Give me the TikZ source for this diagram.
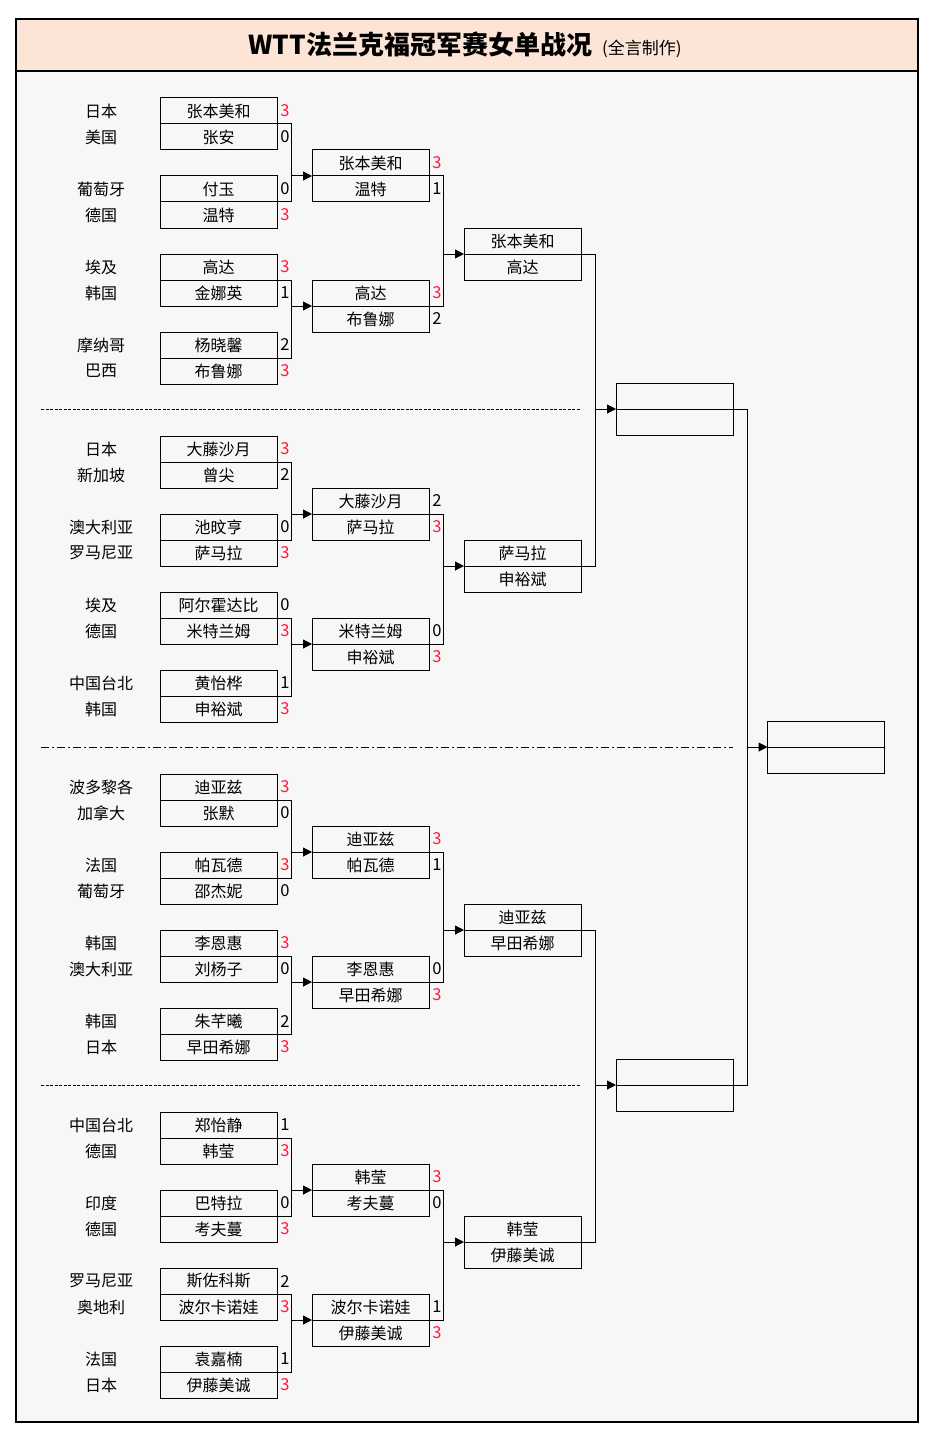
\documentclass[tikz,border=0pt]{standalone}
\usepackage{fontspec}
\setmainfont{Noto Sans CJK SC}
\usetikzlibrary{arrows.meta}
\definecolor{titlefill}{HTML}{FCE4D6}
\definecolor{bodyfill}{HTML}{F7F7F7}
\definecolor{scorered}{HTML}{FF1A3C}
\newcommand\Sc[1]{\ifnum#1=3 \textcolor{scorered}{#1}\else #1\fi}
\tikzset{
  cell/.style={draw, line width=1pt, minimum width=117pt, minimum height=26pt,
    inner sep=0pt, outer sep=0pt, font=\fontsize{16}{16}\selectfont},
  score/.style={inner sep=0pt, font=\fontsize{16.5}{16}\selectfont},
  country/.style={inner sep=0pt, font=\fontsize{16}{16}\selectfont},
  conn/.style={line width=1pt},
  arr/.style={-{Triangle[length=9pt,width=9pt]}},
  sepdash/.style={line width=0.9pt, dash pattern=on 3pt off 1.5pt},
  sepdashdot/.style={line width=0.9pt, dash pattern=on 8pt off 3pt on 2pt off 3pt},
}
\newcommand\Pair[5]{%
  \node[cell] (#1a) at (#2,#3+13) {#4};
  \node[cell] (#1b) at (#2,#3+39) {#5};}
\newcommand\Scores[3]{%
  \node[score] (#1sa) at ([xshift=8pt]#1a.east) {\Sc{#2}};
  \node[score] (#1sb) at ([xshift=8pt]#1b.east) {\Sc{#3}};}
\newcommand\Rone[8]{%
  \Pair{#1}{218.5}{#2}{#4}{#7}
  \node[country] (#1ca) at (101,#2+13) {#3};
  \node[country] (#1cb) at (101,#2+39) {#6};
  \Scores{#1}{#5}{#8}}
\newcommand\Rtwo[6]{%
  \Pair{#1}{370.5}{#2}{#3}{#5}
  \Scores{#1}{#4}{#6}}
\newcommand\Bracket[3]{%
  \draw[conn] (#1a.south east) -- ++(14,0) coordinate (#1br) |- (#2a.south east);
  \draw[conn,arr] (#1br |- #3a.south west) -- (#3a.south west);}
\begin{document}
\begin{tikzpicture}[x=1pt,y=-1pt]
\useasboundingbox (0,0) rectangle (936,1442);
\fill[white] (0,0) rectangle (936,1442);
\fill[bodyfill] (16,19) rectangle (918,1422);
\fill[titlefill] (16,19) rectangle (918,71);
\draw[line width=2pt] (16,19) rectangle (918,1422);
\draw[line width=2pt] (16,71) -- (918,71);
\node (title) at (465,45) {{\fontsize{26}{26}\selectfont\bfseries WTT法兰克福冠军赛女单战况}\hspace{10pt}{\fontsize{17}{17}\selectfont (全言制作)}};

% Section 1
\Rone{a1}{98}{日本}{张本美和}{3}{美国}{张安}{0}
\Rone{a2}{176}{葡萄牙}{付玉}{0}{德国}{温特}{3}
\Rone{a3}{254}{埃及}{高达}{3}{韩国}{金娜英}{1}
\Rone{a4}{332}{摩纳哥}{杨晓馨}{2}{巴西}{布鲁娜}{3}
\Rtwo{a5}{150}{张本美和}{3}{温特}{1}
\Rtwo{a6}{280}{高达}{3}{布鲁娜}{2}
\Pair{a7}{522.5}{228}{张本美和}{高达}
\Bracket{a1}{a2}{a5}
\Bracket{a3}{a4}{a6}
\Bracket{a5}{a6}{a7}

% Section 2
\Rone{b1}{436}{日本}{大藤沙月}{3}{新加坡}{曾尖}{2}
\Rone{b2}{514}{澳大利亚}{池旼亨}{0}{罗马尼亚}{萨马拉}{3}
\Rone{b3}{592}{埃及}{阿尔霍达比}{0}{德国}{米特兰姆}{3}
\Rone{b4}{670}{中国台北}{黄怡桦}{1}{韩国}{申裕斌}{3}
\Rtwo{b5}{488}{大藤沙月}{2}{萨马拉}{3}
\Rtwo{b6}{618}{米特兰姆}{0}{申裕斌}{3}
\Pair{b7}{522.5}{540}{萨马拉}{申裕斌}
\Bracket{b1}{b2}{b5}
\Bracket{b3}{b4}{b6}
\Bracket{b5}{b6}{b7}

% Section 3
\Rone{c1}{774}{波多黎各}{迪亚兹}{3}{加拿大}{张默}{0}
\Rone{c2}{852}{法国}{帕瓦德}{3}{葡萄牙}{邵杰妮}{0}
\Rone{c3}{930}{韩国}{李恩惠}{3}{澳大利亚}{刘杨子}{0}
\Rone{c4}{1008}{韩国}{朱芊曦}{2}{日本}{早田希娜}{3}
\Rtwo{c5}{826}{迪亚兹}{3}{帕瓦德}{1}
\Rtwo{c6}{956}{李恩惠}{0}{早田希娜}{3}
\Pair{c7}{522.5}{904}{迪亚兹}{早田希娜}
\Bracket{c1}{c2}{c5}
\Bracket{c3}{c4}{c6}
\Bracket{c5}{c6}{c7}

% Section 4
\Rone{d1}{1112}{中国台北}{郑怡静}{1}{德国}{韩莹}{3}
\Rone{d2}{1190}{印度}{巴特拉}{0}{德国}{考夫蔓}{3}
\Rone{d3}{1268}{罗马尼亚}{斯佐科斯}{2}{奥地利}{波尔卡诺娃}{3}
\Rone{d4}{1346}{法国}{袁嘉楠}{1}{日本}{伊藤美诚}{3}
\Rtwo{d5}{1164}{韩莹}{3}{考夫蔓}{0}
\Rtwo{d6}{1294}{波尔卡诺娃}{1}{伊藤美诚}{3}
\Pair{d7}{522.5}{1216}{韩莹}{伊藤美诚}
\Bracket{d1}{d2}{d5}
\Bracket{d3}{d4}{d6}
\Bracket{d5}{d6}{d7}

% Semis and final
\Pair{sf1}{674.5}{383}{}{}
\Pair{sf2}{674.5}{1059}{}{}
\Pair{fin}{826}{721}{}{}
\Bracket{a7}{b7}{sf1}
\Bracket{c7}{d7}{sf2}
\Bracket{sf1}{sf2}{fin}

% separators
\draw[sepdash] (41,409) -- (581,409);
\draw[sepdashdot] (41,747) -- (733,747);
\draw[sepdash] (41,1085) -- (581,1085);
\end{tikzpicture}
\end{document}
